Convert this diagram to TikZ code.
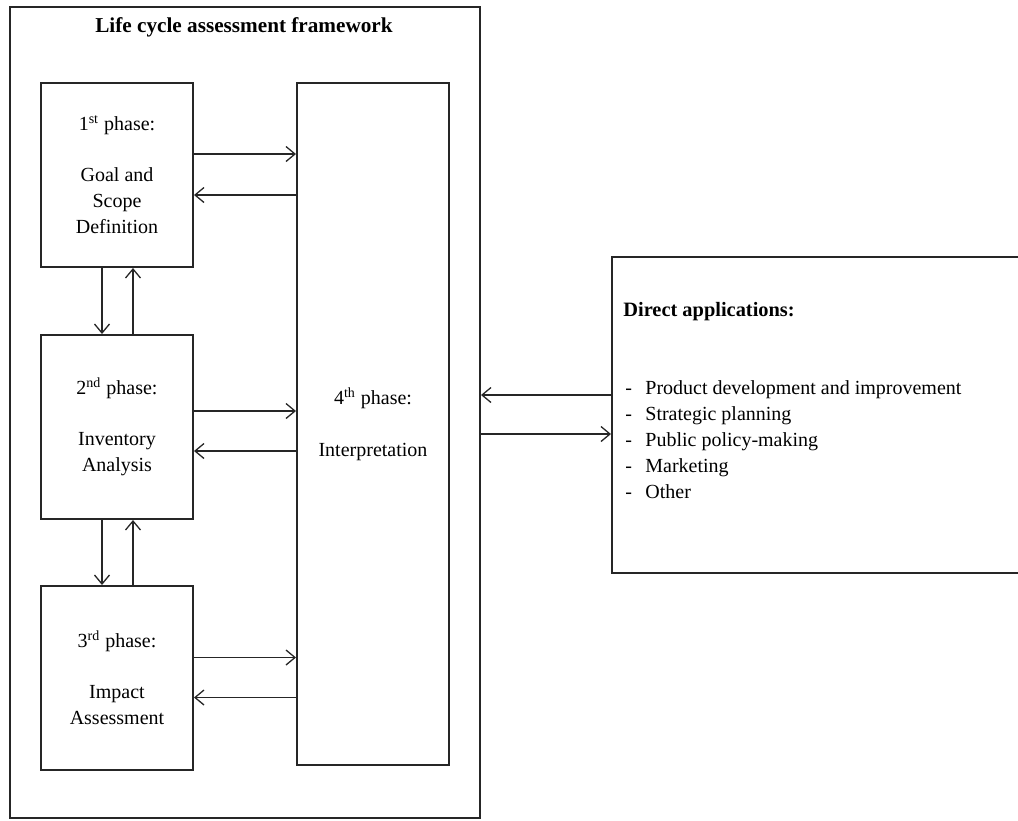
\documentclass[tikz,border=0pt]{standalone}
\usepackage{fontspec}
\setmainfont{Liberation Serif}
\usetikzlibrary{arrows.meta,positioning}

\begin{document}
\begin{tikzpicture}[x=0.5pt,y=-0.5pt]
\tikzstyle{txt}=[font=\fontsize{10}{13}\selectfont, inner sep=0pt]
\tikzstyle{box}=[rectangle, draw=black!85, line width=1pt, inner sep=0pt]
\tikzstyle{phase}=[box, txt, minimum width=76pt, minimum height=92pt, align=center]
\tikzstyle{connect}=[-{Straight Barb[length=4.5pt,width=7.5pt]}, line width=0.65pt, draw=black!85]

  \useasboundingbox (0,0) rectangle (1018,820);
  \clip (0,0) rectangle (1018,820);

  \node[box, minimum width=235pt, minimum height=405.5pt] (frame) at (245,412.5) {};
  \node[txt, font=\fontsize{10.6}{13}\selectfont\bfseries] (title) at (244,27) {Life cycle assessment framework};

  \node[phase] (p1) at (117,175)            {1\textsuperscript{st} phase:\\[12.5pt]Goal and\\Scope\\Definition};
  \node[phase] (p2) [below=33pt of p1]      {2\textsuperscript{nd} phase:\\[12.5pt]Inventory\\Analysis};
  \node[phase] (p3) [below=32.5pt of p2]    {3\textsuperscript{rd} phase:\\[12.5pt]Impact\\Assessment};
  \node[phase, minimum height=341pt] (interp) [right=51pt of p1.north east, anchor=north west]
                                            {4\textsuperscript{th} phase:\\[13pt]Interpretation};

  \node[box, minimum width=209.5pt, minimum height=158pt, anchor=north west] (apps) at (611,256) {};
  \node[txt, font=\fontsize{10.2}{13}\selectfont\bfseries, anchor=west] (appshead) at (623,312) {Direct applications:};
  \node[txt, align=left, anchor=west] (appslist) at (625,440)
    {\makebox[10pt][l]{-}Product development and improvement\\
     \makebox[10pt][l]{-}Strategic planning\\
     \makebox[10pt][l]{-}Public policy-making\\
     \makebox[10pt][l]{-}Marketing\\
     \makebox[10pt][l]{-}Other};

  \path ([yshift=10.5pt]p1.east)     edge [connect] ([yshift=10.5pt]p1.east -| interp.west)
        ([yshift=-10pt]p1.east -| interp.west) edge [connect] ([yshift=-10pt]p1.east)
        ([yshift=8pt]p2.east)        edge [connect] ([yshift=8pt]p2.east -| interp.west)
        ([yshift=-12pt]p2.east -| interp.west) edge [connect] ([yshift=-12pt]p2.east)
        ([yshift=10.25pt]p3.east)    edge [connect] ([yshift=10.25pt]p3.east -| interp.west)
        ([yshift=-9.75pt]p3.east -| interp.west) edge [connect] ([yshift=-9.75pt]p3.east)
        ([xshift=-7.5pt]p1.south)    edge [connect] ([xshift=-7.5pt]p1.south |- p2.north)
        ([xshift=8pt]p2.north)       edge [connect] ([xshift=8pt]p2.north |- p1.south)
        ([xshift=-7.5pt]p2.south)    edge [connect] ([xshift=-7.5pt]p2.south |- p3.north)
        ([xshift=8pt]p3.north)       edge [connect] ([xshift=8pt]p3.north |- p2.south)
        ([yshift=10pt]apps.west)     edge [connect] ([yshift=10pt]apps.west -| frame.east)
        ([yshift=-9.5pt]apps.west -| frame.east) edge [connect] ([yshift=-9.5pt]apps.west);

\end{tikzpicture}
\end{document}
